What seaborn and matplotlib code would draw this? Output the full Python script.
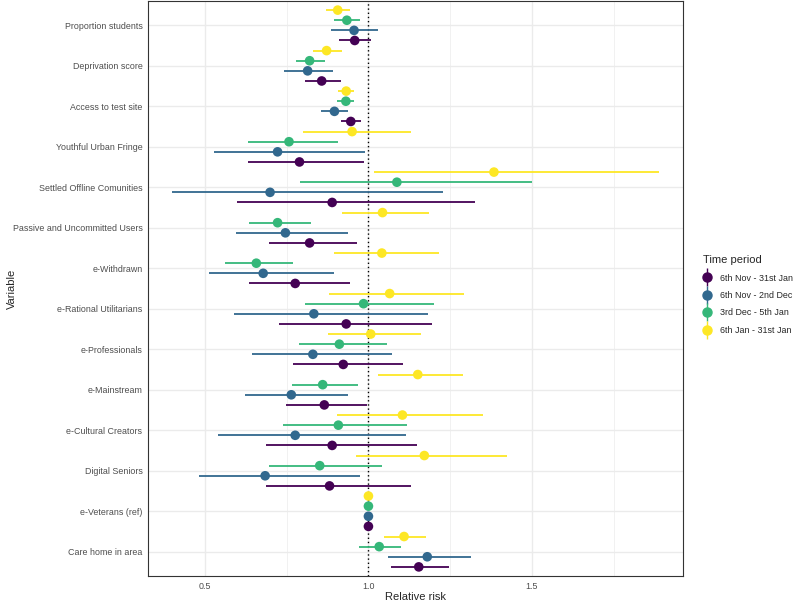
import numpy as np
import pandas as pd
import matplotlib.pyplot as plt
import seaborn as sns
from matplotlib.lines import Line2D
from matplotlib.legend_handler import HandlerTuple
from matplotlib.ticker import MultipleLocator

variables = ["Care home in area", "e-Veterans (ref)", "Digital Seniors", "e-Cultural Creators",
             "e-Mainstream", "e-Professionals", "e-Rational Utilitarians", "e-Withdrawn",
             "Passive and Uncommitted Users", "Settled Offline Comunities", "Youthful Urban Fringe",
             "Access to test site", "Deprivation score", "Proportion students"]
periods = ["6th Nov - 31st Jan", "6th Nov - 2nd Dec", "3rd Dec - 5th Jan", "6th Jan - 31st Jan"]

# relative risk with lower / upper interval, one list per period, same order as variables
rr_p1 = [1.154, 1.0, 0.881, 0.889, 0.865, 0.923, 0.932, 0.776, 0.820, 0.889, 0.789, 0.946, 0.857, 0.958]
lo_p1 = [1.068, 1.0, 0.686, 0.688, 0.748, 0.770, 0.726, 0.635, 0.697, 0.599, 0.633, 0.915, 0.805, 0.909]
hi_p1 = [1.245, 1.0, 1.131, 1.150, 0.997, 1.106, 1.194, 0.944, 0.965, 1.326, 0.986, 0.978, 0.915, 1.009]

rr_p2 = [1.180, 1.0, 0.684, 0.776, 0.764, 0.830, 0.833, 0.678, 0.746, 0.699, 0.722, 0.896, 0.814, 0.956]
lo_p2 = [1.060, 1.0, 0.481, 0.539, 0.623, 0.643, 0.588, 0.513, 0.594, 0.400, 0.529, 0.855, 0.743, 0.887]
hi_p2 = [1.314, 1.0, 0.973, 1.116, 0.938, 1.072, 1.183, 0.896, 0.938, 1.229, 0.988, 0.939, 0.892, 1.030]

rr_p3 = [1.033, 1.0, 0.851, 0.908, 0.860, 0.911, 0.985, 0.657, 0.722, 1.087, 0.757, 0.931, 0.820, 0.934]
lo_p3 = [0.970, 1.0, 0.697, 0.738, 0.765, 0.787, 0.807, 0.560, 0.635, 0.790, 0.633, 0.905, 0.778, 0.895]
hi_p3 = [1.099, 1.0, 1.043, 1.118, 0.967, 1.057, 1.202, 0.769, 0.823, 1.500, 0.906, 0.957, 0.866, 0.975]

rr_p4 = [1.109, 1.0, 1.171, 1.104, 1.151, 1.007, 1.065, 1.041, 1.043, 1.384, 0.950, 0.932, 0.872, 0.906]
lo_p4 = [1.047, 1.0, 0.963, 0.903, 1.028, 0.875, 0.878, 0.894, 0.920, 1.016, 0.799, 0.907, 0.829, 0.869]
hi_p4 = [1.177, 1.0, 1.424, 1.350, 1.289, 1.161, 1.293, 1.216, 1.184, 1.888, 1.131, 0.957, 0.920, 0.944]

rows = []
for p, rr, lo, hi in zip(periods, [rr_p1, rr_p2, rr_p3, rr_p4], [lo_p1, lo_p2, lo_p3, lo_p4],
                         [hi_p1, hi_p2, hi_p3, hi_p4]):
    for v, a, b, c in zip(variables, rr, lo, hi):
        rows.append({"variable": v, "period": p, "rr": a, "lo": b, "hi": c})
df = pd.DataFrame(rows)

# dodge like ggplot position_dodge(width = 1)
n = len(periods)
offsets = {p: (i - (n - 1) / 2) / n for i, p in enumerate(periods)}
df["ypos"] = df["variable"].map({v: i for i, v in enumerate(variables)}) + df["period"].map(offsets)

colors = sns.color_palette("viridis", as_cmap=True)(np.linspace(0, 1, n))
pal = dict(zip(periods, colors))

sns.set_style("white")
plt.rcParams["font.family"] = ["Liberation Sans", "DejaVu Sans"]

fig = plt.figure(figsize=(7.96, 6.02), dpi=100)
ax = fig.add_axes([148 / 796, 26 / 602, (683 - 148) / 796, (601 - 26) / 602])

# grid
ax.xaxis.set_minor_locator(MultipleLocator(0.25))
ax.grid(which="major", color="#EBEBEB", linewidth=1.0, zorder=0)
ax.grid(which="minor", axis="x", color="#EBEBEB", linewidth=0.5, zorder=0)
ax.set_axisbelow(True)

ax.axvline(1.0, color="black", linestyle=(0, (1, 2)), linewidth=1.0, zorder=1)

for p in periods:
    d = df[df["period"] == p]
    ax.hlines(d["ypos"], d["lo"], d["hi"], color=pal[p], linewidth=1.3, zorder=2)

sns.scatterplot(data=df, x="rr", y="ypos", hue="period", palette=pal, hue_order=periods,
                s=48, edgecolor="none", legend=False, ax=ax, zorder=3)

span = df["hi"].max() - df["lo"].min()
ax.set_xlim(df["lo"].min() - 0.05 * span, df["hi"].max() + 0.05 * span)
ax.set_ylim(-0.6, len(variables) - 0.4)
ax.set_xticks([0.5, 1.0, 1.5])
ax.set_xticklabels(["0.5", "1.0", "1.5"])
ax.set_yticks(range(len(variables)))
ax.set_yticklabels(variables)
ax.tick_params(axis="both", which="major", length=2.5, width=0.8, color="#333333",
               labelsize=6.4, labelcolor="#4D4D4D", pad=1.5)
ax.tick_params(axis="x", which="minor", length=0)
for s in ax.spines.values():
    s.set_color("#333333")
    s.set_linewidth(0.8)

ax.set_xlabel("Relative risk", fontsize=8, va="center")
ax.set_ylabel("Variable", fontsize=8, va="center")
ax.xaxis.set_label_coords(0.5, -0.036)
ax.yaxis.set_label_coords(-0.255, 0.5)

# pointrange style keys: vertical bar with a dot on top
handles = [(Line2D([], [], color=pal[p], marker="|", markersize=13, markeredgewidth=1.0, linestyle="none"),
            Line2D([], [], color=pal[p], marker="o", markersize=6.5, linestyle="none"))
           for p in periods]
leg = fig.legend(handles, periods, handler_map={tuple: HandlerTuple(ndivide=1)},
                 loc="center left", bbox_to_anchor=(695 / 796, 0.51), frameon=False,
                 title="Time period", fontsize=6.4, title_fontsize=8, handlelength=1.0,
                 handletextpad=0.9, labelspacing=0.95, alignment="left")

fig.savefig("out.png", dpi=100)
